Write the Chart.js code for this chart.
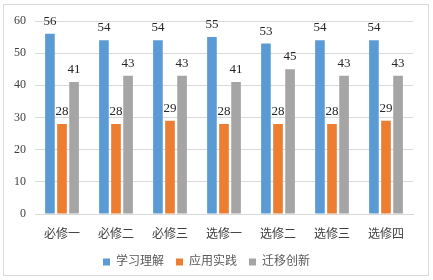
<!DOCTYPE html>
<html>
<head>
<meta charset="utf-8">
<script src="https://cdn.jsdelivr.net/npm/chart.js@4"></script>
<style>
  html, body { margin: 0; padding: 0; background: #fff; }
  #wrap { position: relative; width: 433px; height: 280px; }
</style>
</head>
<body>
<div id="wrap"><canvas id="grafico"></canvas></div>
<script>
// dados do gráfico
const categorias = ['必修一', '必修二', '必修三', '选修一', '选修二', '选修三', '选修四'];
const aprender = [56, 54, 54, 55, 53, 54, 54];     // 学习理解
const aplicar = [28, 28, 29, 28, 28, 28, 29];      // 应用实践
const transferir = [41, 43, 43, 41, 45, 43, 43];   // 迁移创新
const nomesSeries = ['学习理解', '应用实践', '迁移创新'];

const fonteSerif = '"Liberation Serif", "Noto Sans CJK SC", serif';

// moldura externa
const moldura = {
    id: 'moldura',
    beforeDraw(chart) {
        const ctx = chart.ctx;
        ctx.save();
        ctx.fillStyle = '#fff';
        ctx.fillRect(0, 0, chart.width, chart.height);
        ctx.strokeStyle = '#D9D9D9';
        ctx.lineWidth = 1;
        ctx.strokeRect(3.5, 4.5, 425, 271);
        ctx.restore();
    }
};

// rótulos de valor acima das barras
const rotulos = {
    id: 'rotulos',
    afterDatasetsDraw(chart) {
        const ctx = chart.ctx;
        ctx.save();
        ctx.font = '13px ' + fonteSerif;
        ctx.fillStyle = '#262626';
        ctx.textAlign = 'center';
        ctx.textBaseline = 'alphabetic';
        chart.data.datasets.forEach((ds, i) => {
            chart.getDatasetMeta(i).data.forEach((bar, j) => {
                ctx.fillText(ds.data[j], bar.x, bar.y - 9);
            });
        });
        ctx.restore();
    }
};

const ctx = document.getElementById('grafico').getContext('2d');
const grafico = new Chart(ctx, {
    type: 'bar',
    data: {
        labels: categorias,
        datasets: [
            { label: nomesSeries[0], data: aprender, backgroundColor: '#5B9BD5' },
            { label: nomesSeries[1], data: aplicar, backgroundColor: '#ED7D31' },
            { label: nomesSeries[2], data: transferir, backgroundColor: '#A5A5A5' }
        ]
    },
    options: {
        responsive: true,
        maintainAspectRatio: false,
        animation: false,
        categoryPercentage: 0.67,
        barPercentage: 0.8,
        layout: { padding: { left: 0, right: 20, top: 21, bottom: 2 } },
        scales: {
            x: {
                grid: { display: false },
                border: { display: true, color: '#D9D9D9' },
                ticks: { color: '#404040', font: { size: 12, family: fonteSerif }, padding: 6 },
                afterFit: (s) => { s.height = 30; }
            },
            y: {
                min: 0,
                max: 60,
                ticks: { stepSize: 10, color: '#404040', font: { size: 12, family: fonteSerif }, padding: 9 },
                grid: { color: '#D9D9D9', drawTicks: false },
                border: { display: false },
                afterFit: (s) => { s.width = 35; }
            }
        },
        plugins: {
            legend: {
                position: 'bottom',
                labels: {
                    boxWidth: 7,
                    boxHeight: 7,
                    color: '#595959',
                    font: { size: 12, family: fonteSerif },
                    padding: 12
                }
            },
            tooltip: { enabled: false }
        }
    },
    plugins: [moldura, rotulos]
});
</script>
</body>
</html>
